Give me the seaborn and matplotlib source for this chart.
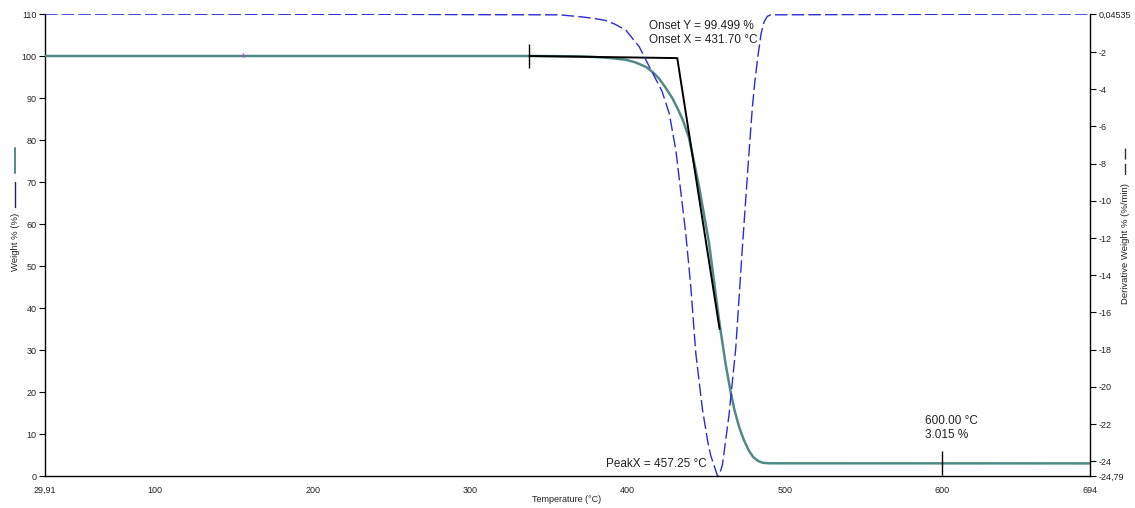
import matplotlib
matplotlib.use("Agg")
import matplotlib.pyplot as plt
import seaborn as sns
import numpy as np
from matplotlib.lines import Line2D

# ---- data ----
temp_w = [29.91, 100, 200, 300, 340, 361, 370, 380, 390, 399, 405, 411.8, 416, 420.2,
          424, 428.7, 432, 435, 439.2, 445.6, 451.9, 458.3, 462.5, 465.7, 468, 471,
          474, 477.3, 480, 483, 486, 490, 500, 600, 694]
weight = [100, 100, 100, 100, 100, 99.95, 99.9, 99.75, 99.5, 99.1, 98.5, 97.4, 96.2, 94.6,
          92.6, 89.9, 87.4, 85, 80.5, 68.8, 55.5, 37.0, 26.5, 19.9, 15.8, 11.7,
          8.6, 6.0, 4.5, 3.6, 3.15, 3.03, 3.02, 3.015, 3.0]

temp_d = [29.91, 100, 200, 249, 300, 357, 370, 378, 386, 392, 399, 407.5, 413.9, 418, 422,
          426.6, 430.8, 437.1, 440.3, 443.5, 447.7, 451, 453, 456.2, 457.25, 458.5, 460.4,
          464.6, 468.9, 473.1, 476.3, 478, 479.4, 481, 483, 485, 487, 489, 491, 600, 694]
deriv = [0.04, 0.035, 0.03, 0.03, 0.01, 0.0, -0.1, -0.18, -0.3, -0.5, -0.82, -1.71, -2.78,
         -3.45, -4.1, -5.3, -7.27, -11.75, -14.6, -18.2, -21.2, -22.9, -23.7, -24.5, -24.79,
         -24.7, -24.2, -21.5, -17.9, -12.5, -8.6, -6.6, -5.0, -3.6, -2.2, -1.0, -0.35,
         -0.08, 0.0, 0.03, 0.04]

tangent_t = [337.8, 431.7, 458.6]
tangent_w = [100.0, 99.499, 35.0]

marker_t = [337.8, 600.0]
marker_w = [100.0, 3.015]

xticks = [29.91, 100, 200, 300, 400, 500, 600, 694]
xticklabels = ["29,91", "100", "200", "300", "400", "500", "600", "694"]
yticks_left = list(range(0, 111, 10))
yticks_right = [0.04535, -2, -4, -6, -8, -10, -12, -14, -16, -18, -20, -22, -24, -24.79]
yticklabels_right = ["0,04535", "-2", "-4", "-6", "-8", "-10", "-12", "-14", "-16",
                     "-18", "-20", "-22", "-24", "-24,79"]

onset_text = "Onset Y = 99.499 %\nOnset X = 431.70 °C"
peak_text = "PeakX = 457.25 °C"
end_text = "600.00 °C\n3.015 %"

# ---- style ----
sns.set_style("white")
plt.rcParams['font.family'] = ['Liberation Sans', 'DejaVu Sans']

W, H = 1135, 508
fig = plt.figure(figsize=(W / 100, H / 100), dpi=100)
ax = fig.add_axes([45 / W, (H - 476) / H, (1090 - 45) / W, (476 - 14) / H])
ax2 = ax.twinx()

teal = '#4f8b86'
blue = '#2b2bd6'

sns.lineplot(x=temp_w, y=weight, ax=ax, color=teal, lw=1.8, sort=False, estimator=None, zorder=3)
sns.lineplot(x=tangent_t, y=tangent_w, ax=ax, color='black', lw=1.4, sort=False, estimator=None, zorder=4)
ax.plot(marker_t, marker_w, ls='none', marker='|', ms=17, mew=1.0, color='black', zorder=5)
ax.plot([155.6], [100.2], ls='none', marker='|', ms=3, mew=1.0, color='#c040c0', zorder=5)

sns.lineplot(x=temp_d, y=deriv, ax=ax2, color=blue, lw=1.0, sort=False, estimator=None, zorder=2)
ax2.lines[0].set_linestyle((0, (9, 3)))

ax.set_xlim(29.91, 694)
ax.set_ylim(0, 110)
ax2.set_ylim(-24.79, 0.04535)

ax.set_xticks(xticks)
ax.set_xticklabels(xticklabels)
ax.set_yticks(yticks_left)
ax2.set_yticks(yticks_right)
ax2.set_yticklabels(yticklabels_right)

for a in (ax, ax2):
    a.tick_params(axis='both', direction='out', length=4, width=0.8, color='black',
                  labelsize=6.5, labelcolor='#222222', pad=2)
    a.spines['top'].set_visible(False)
    for s in ('left', 'right', 'bottom'):
        a.spines[s].set_color('black')
        a.spines[s].set_linewidth(1.0)
ax.tick_params(axis='x', pad=3)
ax.spines['right'].set_visible(False)
ax2.spines['left'].set_visible(False)
ax2.spines['bottom'].set_visible(False)
ax.set_xlabel("")
ax.set_ylabel("")
ax2.set_ylabel("")

# annotations
ax.text(413.9, 105.4, onset_text, fontsize=8.5, color='#222222', va='center', ha='left',
        linespacing=1.25)
ax.text(386.6, 2.9, peak_text, fontsize=8.5, color='#222222', va='center', ha='left')
ax.text(588.9, 11.5, end_text, fontsize=8.5, color='#222222', va='center', ha='left',
        linespacing=1.25)

# axis titles
fig.text(567 / W, (H - 500) / H, "Temperature (°C)", fontsize=6.5, color='#222222',
         ha='center', va='center')
fig.text(15 / W, (H - 242) / H, "Weight % (%)", fontsize=6.8, color='#222222',
         rotation=90, ha='center', va='center')
fig.lines.append(Line2D([15 / W, 15 / W], [(H - 148) / H, (H - 173) / H],
                        transform=fig.transFigure, color=teal, lw=1.4))
fig.lines.append(Line2D([15 / W, 15 / W], [(H - 182) / H, (H - 207) / H],
                        transform=fig.transFigure, color='#20206a', lw=1.0))
fig.text(1125 / W, (H - 244) / H, "Derivative Weight % (%/min)", fontsize=6.8,
         color='#222222', rotation=90, ha='center', va='center')
fig.lines.append(Line2D([1125 / W, 1125 / W], [(H - 148) / H, (H - 176) / H],
                        transform=fig.transFigure, color='#333333', lw=1.0,
                        ls=(0, (8, 3))))

fig.savefig("out.png", dpi=100, facecolor='white')
